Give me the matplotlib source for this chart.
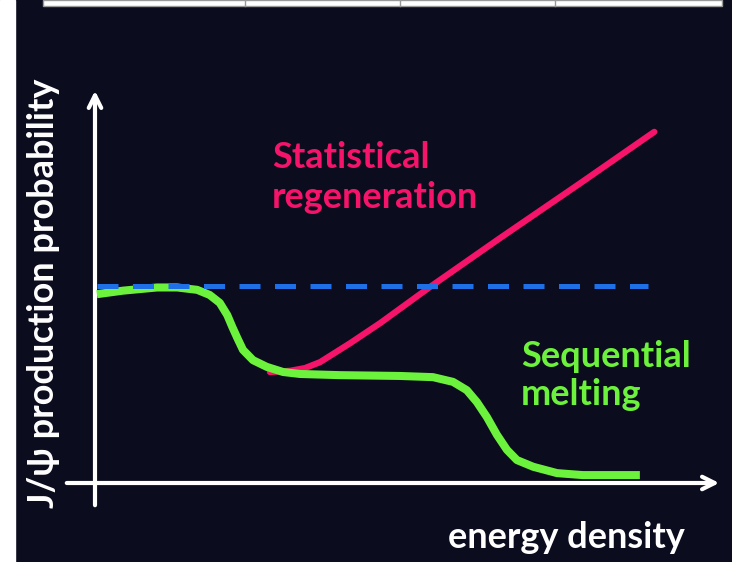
import matplotlib.pyplot as plt
from matplotlib.patches import Rectangle

# energy density (arb. units) vs J/psi production probability
green_x = [0.03, 0.45, 0.99, 1.31, 1.63, 1.83, 1.99, 2.11, 2.19, 2.27, 2.36, 2.52, 2.74, 3.00,
           3.27, 3.91, 4.39, 4.86, 5.39, 5.71, 5.93, 6.09, 6.25, 6.41, 6.57, 6.73, 6.99, 7.37,
           7.78, 8.69]
green_y = [0.478, 0.487, 0.495, 0.495, 0.489, 0.476, 0.456, 0.425, 0.395, 0.367, 0.337, 0.311,
           0.294, 0.281, 0.276, 0.273, 0.272, 0.271, 0.268, 0.256, 0.235, 0.205, 0.167, 0.122,
           0.084, 0.058, 0.041, 0.025, 0.020, 0.020]
red_x = [2.79, 3.11, 3.35, 3.59, 4.07, 4.55, 5.34, 6.46, 7.74, 8.92]
red_y = [0.281, 0.284, 0.291, 0.306, 0.354, 0.405, 0.496, 0.620, 0.759, 0.889]
blue_x = [0.03, 8.82]
blue_y = [0.499, 0.499]

bg = '#0b0c1e'
red = '#f5146a'
green = '#6cf23c'
blue = '#1f6fe6'

W, H = 732, 562
fig = plt.figure(figsize=(W / 100, H / 100), dpi=100)
fig.patch.set_facecolor(bg)

# bits of the slide around the chart
fig.patches.append(Rectangle((0, 0), 15 / W, 1, transform=fig.transFigure, color='white', zorder=0))
fig.patches.append(Rectangle((43 / W, 1 - 6 / H), (722 - 43) / W, 6 / H, transform=fig.transFigure,
                             facecolor='white', edgecolor='#999999', lw=1, zorder=0))
for px in [245, 400, 555]:
    fig.lines.append(plt.Line2D([px / W, px / W], [1 - 6 / H, 1], transform=fig.transFigure,
                                color='#999999', lw=1))

ax = fig.add_axes([95 / W, (H - 483) / H, (722 - 95) / W, (483 - 88) / H])
ax.set_facecolor('none')
ax.set_xlim(0, 10)
ax.set_ylim(0, 1)
ax.axis('off')

# axes arrows
ax.annotate('', xy=(0, 1), xytext=(0, -25 / 395), xycoords='axes fraction',
            arrowprops=dict(arrowstyle='->,head_length=0.9,head_width=0.45', color='white', lw=3))
ax.annotate('', xy=(1, 0), xytext=(-31 / 627, 0), xycoords='axes fraction',
            arrowprops=dict(arrowstyle='->,head_length=0.9,head_width=0.45', color='white', lw=3))

ax.plot(red_x, red_y, color=red, lw=4.5, solid_capstyle='round', solid_joinstyle='round', zorder=3)
ax.plot(green_x, green_y, color=green, lw=5.8, solid_capstyle='butt', solid_joinstyle='round', zorder=4)
ax.plot(blue_x, blue_y, color=blue, lw=3.6, dashes=(4.2, 2.9), zorder=5)

font = 'Lato'
fs = 26


def label(px, py, s, color, **kw):
    fig.text(px / W, 1 - py / H, s, color=color, fontsize=fs, family=[font, 'DejaVu Sans'],
             weight='bold', va='baseline', **kw)


label(272, 168, 'Statistical', red)
label(272, 208, 'regeneration', red)
label(521, 367, 'Sequential', green)
label(521, 405, 'melting', green)
label(685, 548, 'energy density', 'white', ha='right')
label(54, 508, 'J/ψ production probability', 'white', rotation=90, rotation_mode='anchor', ha='left')

fig.savefig('out.png', dpi=100, facecolor=bg)
